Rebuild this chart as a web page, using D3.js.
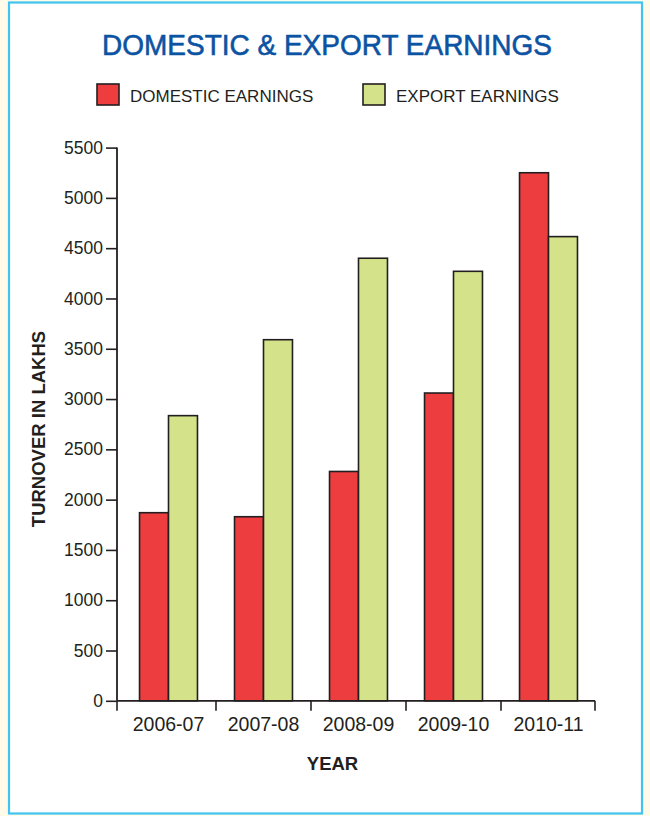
<!DOCTYPE html>
<html>
<head>
<meta charset="utf-8">
<script src="https://cdn.jsdelivr.net/npm/d3@7"></script>
<style>
  html, body { margin: 0; padding: 0; background: #fffbe8; }
  svg { display: block; }
  text { font-family: "Liberation Sans", Arial, sans-serif; fill: #231f20; }
</style>
</head>
<body>
<svg id="chart" width="650" height="816"></svg>
<script>
// Turnover (in lakhs) per financial year
const years = ["2006-07", "2007-08", "2008-09", "2009-10", "2010-11"];
const domestic = [1870, 1830, 2280, 3060, 5250];
const exportEarn = [2835, 3590, 4400, 4270, 4615];
const seriesNames = ["DOMESTIC EARNINGS", "EXPORT EARNINGS"];
const seriesColors = ["#ee3d3f", "#d4e389"];
const yTicks = [0, 500, 1000, 1500, 2000, 2500, 3000, 3500, 4000, 4500, 5000, 5500];

const svg = d3.select("#chart");
const ink = "#231f20";

// Framed panel
svg.append("rect")
  .attr("x", 9).attr("y", 2.5).attr("width", 633).attr("height", 811)
  .attr("fill", "#ffffff").attr("stroke", "#3fc3ef").attr("stroke-width", 2.2);

// Title
svg.append("text")
  .attr("x", 327).attr("y", 54.5)
  .attr("text-anchor", "middle")
  .attr("font-size", 30)
  .attr("textLength", 450).attr("lengthAdjust", "spacingAndGlyphs")
  .style("fill", "#0b53a3")
  .style("stroke", "#0b53a3").style("stroke-width", 0.6)
  .text("DOMESTIC & EXPORT EARNINGS");

// Legend
const legendX = [97, 363];
seriesNames.forEach((name, i) => {
  const g = svg.append("g").attr("transform", `translate(${legendX[i]},84)`);
  g.append("rect").attr("width", 22).attr("height", 21)
    .attr("fill", seriesColors[i]).attr("stroke", ink).attr("stroke-width", 1.6);
  g.append("text").attr("x", 33).attr("y", 17.5)
    .attr("font-size", 17).text(name);
});

// Scales
const y = d3.scaleLinear().domain([0, 5500]).range([700.8, 147.6]);
const x0 = d3.scaleBand().domain(years).range([121, 596]).paddingInner(0.39).paddingOuter(0.195);
const x1 = d3.scaleBand().domain([0, 1]).range([0, x0.bandwidth()]);

const plotLeft = 117, plotRight = 595;

// Y axis
const yAxis = svg.append("g")
  .attr("transform", `translate(${plotLeft},0)`)
  .call(d3.axisLeft(y).tickValues(yTicks).tickFormat(d3.format("d"))
    .tickSize(11).tickPadding(3).tickSizeOuter(0));
yAxis.attr("font-family", null);
yAxis.select(".domain").attr("stroke", ink).attr("stroke-width", 1.8)
  .attr("d", `M0,${y(0)}V${y(5500)}`);
yAxis.selectAll(".tick line").attr("stroke", ink).attr("stroke-width", 1.6);
yAxis.selectAll(".tick text").attr("font-size", 17.5).style("fill", ink);

// Bars
const groups = svg.append("g").selectAll("g").data(years).join("g")
  .attr("transform", d => `translate(${x0(d)},0)`);
groups.selectAll("rect")
  .data((d, i) => [domestic[i], exportEarn[i]])
  .join("rect")
  .attr("x", (d, j) => x1(j))
  .attr("width", x1.bandwidth())
  .attr("y", d => y(d))
  .attr("height", d => y(0) - y(d))
  .attr("fill", (d, j) => seriesColors[j])
  .attr("stroke", ink).attr("stroke-width", 1.6);

// X axis: baseline with ticks at category boundaries
const step = x0.step();
const bounds = years.map(d => x0(d) - step * x0.paddingInner() / 2);
bounds[0] = plotLeft;
bounds.push(plotRight);
const xAxis = svg.append("g");
xAxis.append("line")
  .attr("x1", plotLeft).attr("x2", plotRight)
  .attr("y1", y(0)).attr("y2", y(0))
  .attr("stroke", ink).attr("stroke-width", 1.8);
xAxis.selectAll("line.b").data(bounds).join("line").attr("class", "b")
  .attr("x1", d => d).attr("x2", d => d)
  .attr("y1", y(0)).attr("y2", y(0) + 10)
  .attr("stroke", ink).attr("stroke-width", 1.6);
xAxis.selectAll("text").data(years).join("text")
  .attr("x", d => x0(d) + x0.bandwidth() / 2)
  .attr("y", 730.5)
  .attr("text-anchor", "middle")
  .attr("font-size", 19.5)
  .text(d => d);

// Axis titles
svg.append("text")
  .attr("x", 332.5).attr("y", 769.5)
  .attr("text-anchor", "middle")
  .attr("font-size", 18.5).attr("font-weight", "bold")
  .text("YEAR");

svg.append("text")
  .attr("transform", "translate(45,429) rotate(-90)")
  .attr("text-anchor", "middle")
  .attr("font-size", 18.5).attr("font-weight", "bold")
  .text("TURNOVER IN LAKHS");
</script>
</body>
</html>
